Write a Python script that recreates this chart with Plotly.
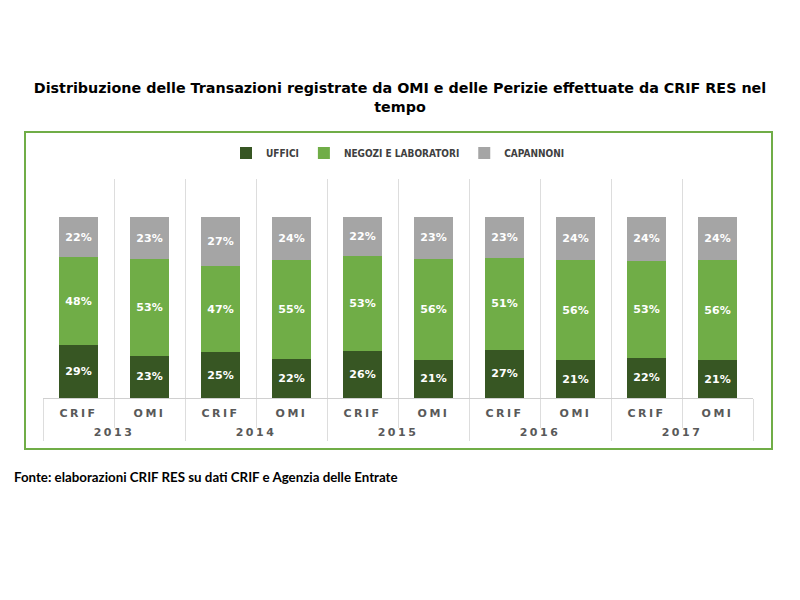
import plotly.graph_objects as go

years = ["2013", "2013", "2014", "2014", "2015", "2015", "2016", "2016", "2017", "2017"]
sources = ["CRIF", "OMI", "CRIF", "OMI", "CRIF", "OMI", "CRIF", "OMI", "CRIF", "OMI"]

uffici = [29, 23, 25, 22, 26, 21, 27, 21, 22, 21]
negozi = [48, 53, 47, 55, 53, 56, 51, 56, 53, 56]
capannoni = [22, 23, 27, 24, 22, 23, 23, 24, 24, 24]

series_names = ["UFFICI", "NEGOZI E LABORATORI", "CAPANNONI"]
series_colors = ["#375623", "#70AD47", "#A5A5A5"]

title_text = ("Distribuzione delle Transazioni registrate da OMI e delle Perizie effettuate da CRIF RES nel"
              "<br>tempo")
source_text = "Fonte: elaborazioni CRIF RES su dati CRIF e Agenzia delle Entrate"


def spaced(s, px):
    return f'<span style="letter-spacing:{px}px">{s}</span>'


idx = list(range(len(sources)))
year_list = list(dict.fromkeys(years))
year_pos = [sum(i for i, y in zip(idx, years) if y == yy) / years.count(yy) for yy in year_list]

# page body adds an 8px offset; layout positions are expressed in figure pixels
L, R, T, B = 35, 745, 171, 390
PW, PH = R - L, B - T

fig = go.Figure()
for name, vals, col in zip(series_names, [uffici, negozi, capannoni], series_colors):
    fig.add_trace(go.Bar(
        x=idx,
        y=vals,
        name=name,
        marker=dict(color=col, line=dict(width=0)),
        text=[f"{v}%" for v in vals],
        textposition="inside",
        insidetextanchor="middle",
        textangle=0,
        textfont=dict(family="DejaVu Sans", size=11, color="white", weight="bold"),
        customdata=[[y, s] for y, s in zip(years, sources)],
        hovertemplate="%{customdata[1]} %{customdata[0]}: " + "%{text}<extra>" + name + "</extra>",
    ))

# invisible carrier trace so the year axis (x2) is drawn
fig.add_trace(go.Scatter(
    x=year_pos, y=[0] * len(year_pos), xaxis="x2", yaxis="y",
    mode="markers", marker=dict(opacity=0, size=1),
    hoverinfo="skip", showlegend=False,
))

fig.update_layout(
    width=800, height=600,
    barmode="stack", barnorm="percent", bargap=0.45,
    paper_bgcolor="white", plot_bgcolor="white",
    margin=dict(l=L, r=800 - R, t=T, b=600 - B),
    title=dict(text=title_text, x=392 / 800, xanchor="center", xref="container",
               y=1 - 85 / 600, yanchor="middle", yref="container",
               font=dict(family="DejaVu Sans", size=14.3, color="#000000", weight="bold")),
    legend=dict(orientation="h", x=0.5, xanchor="center", y=1 + (T - 145) / PH, yanchor="middle",
                font=dict(family="DejaVu Sans Condensed", size=10,
                          color="#404040", weight="bold"),
                itemwidth=30, traceorder="normal"),
    showlegend=True,
)

axis_font = dict(family="DejaVu Sans", size=11, color="#595959", weight="bold")
xrange = [-0.5, len(idx) - 0.5]

fig.update_layout(
    xaxis=dict(
        range=xrange, tickmode="array", tickvals=idx, ticktext=[spaced(s, 2.5) for s in sources],
        ticks="", showgrid=False, zeroline=False,
        showline=True, linecolor="#D0D0D0", linewidth=1,
        ticklabelstandoff=5, tickfont=axis_font, fixedrange=True,
        minor=dict(tick0=-0.5, dtick=1, showgrid=True, gridcolor="#DDDDDD", gridwidth=1,
                   ticks="outside", ticklen=29, tickcolor="#DDDDDD", tickwidth=1),
    ),
    xaxis2=dict(
        overlaying="x", anchor="y", side="bottom", matches="x",
        range=xrange, tickmode="array", tickvals=year_pos, ticktext=[spaced(y, 2.5) for y in year_list],
        ticks="", showgrid=False, zeroline=False, showline=False,
        ticklabelstandoff=26, tickfont=axis_font, fixedrange=True,
        minor=dict(tick0=-0.5, dtick=2, showgrid=False,
                   ticks="outside", ticklen=42, tickcolor="#DDDDDD", tickwidth=1),
    ),
    yaxis=dict(range=[0, 121], showgrid=False, zeroline=False, showticklabels=False, visible=False,
               fixedrange=True),
)

fig.add_shape(type="rect", xref="paper", yref="paper",
              x0=(17 - L) / PW, x1=(764 - L) / PW,
              y0=(B - 441) / PH, y1=1 + (T - 124) / PH,
              line=dict(color="#70AD47", width=2), fillcolor="rgba(0,0,0,0)", layer="below")

fig.add_annotation(text=source_text, xref="paper", yref="paper",
                   x=(4 - L) / PW, y=(B - 469) / PH, xanchor="left", yanchor="middle",
                   showarrow=False,
                   font=dict(family="Lato", size=13.3, color="#000000", weight="bold"))

fig.write_html("out.html")
